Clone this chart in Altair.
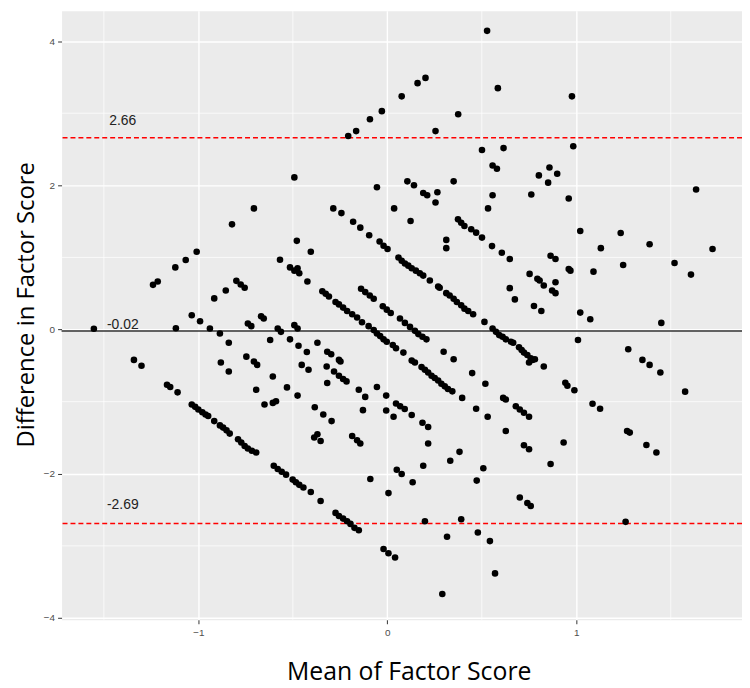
import altair as alt
import pandas as pd

# ---------------- data (mean of factor score, difference in factor score) ----------------
left_pts = [(-1.240, 0.620), (-1.215, 0.666), (-1.122, 0.862), (-1.067, 0.964), (-1.009, 1.078),
            (-0.822, 1.459), (-0.916, 0.432), (-0.855, 0.542), (-1.035, 0.198), (-0.991, 0.116),
            (-1.119, 0.019), (-1.553, 0.010), (-0.939, 0.015), (-0.886, -0.054), (-0.839, -0.183),
            (-0.799, 0.675), (-0.776, 0.624), (-0.755, 0.579), (-1.341, -0.421), (-1.301, -0.503),
            (-1.166, -0.765), (-1.149, -0.796), (-1.110, -0.871), (-0.881, -0.458), (-0.839, -0.582)]

low_diag_a = [(-1.035, -1.040), (-1.017, -1.072), (-1.000, -1.109), (-0.979, -1.146), (-0.962, -1.177),
              (-0.948, -1.200), (-0.916, -1.270), (-0.886, -1.329), (-0.869, -1.360), (-0.851, -1.398),
              (-0.834, -1.443), (-0.790, -1.521), (-0.773, -1.567), (-0.755, -1.614), (-0.738, -1.649),
              (-0.717, -1.682), (-0.694, -1.704)]

low_diag_b = [(-0.601, -1.889), (-0.580, -1.934), (-0.559, -1.971), (-0.536, -2.012), (-0.501, -2.081),
              (-0.484, -2.117), (-0.466, -2.154), (-0.444, -2.191), (-0.405, -2.254), (-0.353, -2.378),
              (-0.274, -2.543), (-0.256, -2.585), (-0.234, -2.622), (-0.213, -2.659), (-0.195, -2.695),
              (-0.174, -2.750), (-0.151, -2.783)]

upper_mid = [(-0.207, 2.684), (-0.165, 2.752), (-0.092, 2.917), (-0.029, 3.029), (-0.492, 2.110),
             (-0.706, 1.680), (-0.055, 1.974), (0.036, 1.680), (-0.286, 1.680), (-0.243, 1.615),
             (-0.181, 1.495), (-0.143, 1.413), (-0.096, 1.308), (-0.041, 1.220), (-0.020, 1.161),
             (0.001, 1.116), (-0.479, 1.230), (-0.405, 1.078), (-0.568, 0.968), (-0.515, 0.862),
             (-0.492, 0.817), (-0.475, 0.849), (-0.466, 0.780), (-0.423, 0.666), (-0.344, 0.532),
             (-0.326, 0.497), (-0.309, 0.459), (-0.274, 0.381), (-0.256, 0.349), (-0.234, 0.304),
             (-0.139, 0.565), (-0.117, 0.519), (-0.093, 0.473), (-0.072, 0.428), (-0.024, 0.322),
             (-0.003, 0.276)]

upper_right = [(0.528, 4.142), (0.160, 3.417), (0.202, 3.490), (0.076, 3.234), (0.585, 3.348),
               (0.375, 2.986), (0.255, 2.752), (0.977, 3.234), (0.984, 2.543), (0.501, 2.491),
               (0.615, 2.516), (0.557, 2.275), (0.580, 2.230), (0.802, 2.138), (0.858, 2.248),
               (0.899, 2.161), (0.851, 2.037), (0.762, 1.872), (0.960, 1.817), (0.106, 2.055),
               (0.141, 2.000), (0.351, 2.055), (0.190, 1.894), (0.211, 1.862), (0.265, 1.904),
               (0.255, 1.762), (0.557, 1.862), (0.533, 1.680), (0.123, 1.505), (0.312, 1.243),
               (0.312, 1.129), (0.374, 1.528), (0.391, 1.481), (0.408, 1.436), (0.444, 1.391),
               (0.470, 1.344), (0.501, 1.275), (0.554, 1.157), (0.606, 1.065), (0.648, 0.978),
               (0.864, 1.023), (0.890, 0.978), (0.960, 0.840), (0.969, 0.817), (0.753, 0.772),
               (0.794, 0.703), (0.806, 0.680), (0.828, 0.611), (0.890, 0.656), (0.872, 0.542),
               (0.890, 0.505), (0.648, 0.574), (0.675, 0.418), (0.776, 0.326), (0.815, 0.257),
               (0.059, 1.000), (0.076, 0.955), (0.093, 0.917), (0.111, 0.886), (0.129, 0.849),
               (0.151, 0.817), (0.172, 0.780), (0.190, 0.748), (0.225, 0.680), (0.269, 0.597),
               (0.277, 0.579), (0.312, 0.505), (0.330, 0.473), (0.351, 0.428), (0.368, 0.381),
               (0.391, 0.336), (0.408, 0.290), (0.428, 0.257), (0.454, 0.212)]

far_upper = [(1.634, 1.941), (1.021, 1.367), (1.235, 1.340), (1.130, 1.129), (1.388, 1.184),
             (1.721, 1.116), (1.248, 0.895), (1.091, 0.803), (1.520, 0.923), (1.607, 0.762)]

lower_mid = [(-0.738, 0.084), (-0.720, 0.047), (-0.668, 0.184), (-0.654, 0.153), (-0.580, 0.015),
             (-0.563, -0.032), (-0.492, 0.061), (-0.475, 0.015), (-0.620, -0.146), (-0.515, -0.136),
             (-0.470, -0.224), (-0.426, -0.311), (-0.370, -0.183), (-0.746, -0.376), (-0.706, -0.444),
             (-0.689, -0.490), (-0.606, -0.651), (-0.694, -0.834), (-0.531, -0.802), (-0.475, -0.916),
             (-0.650, -1.040), (-0.606, -1.017), (-0.589, -0.994), (-0.453, -0.490), (-0.417, -0.558),
             (-0.318, -0.307), (-0.297, -0.343), (-0.256, -0.421), (-0.248, -0.444), (-0.321, -0.513),
             (-0.282, -0.582), (-0.256, -0.641), (-0.234, -0.686), (-0.216, -0.719), (-0.318, -0.741),
             (-0.384, -1.077), (-0.339, -1.177), (-0.295, -1.270), (-0.387, -1.498), (-0.370, -1.453),
             (-0.353, -1.545), (-0.186, -1.476), (-0.160, -1.535), (-0.143, -1.580), (-0.151, -0.834),
             (-0.117, -0.934), (-0.129, -1.118), (-0.055, -0.796), (-0.006, -0.916), (-0.006, -1.122),
             (0.033, -1.209), (0.046, -1.026), (-0.090, -2.072), (0.006, -2.268), (-0.020, -3.044),
             (0.006, -3.103), (0.041, -3.162), (-0.213, 0.257), (-0.186, 0.212), (-0.160, 0.166),
             (-0.134, 0.102), (-0.099, 0.047), (-0.072, -0.008), (-0.055, -0.054), (-0.038, -0.091),
             (-0.020, -0.136), (-0.003, -0.169), (0.029, -0.215), (0.046, -0.260), (0.018, 0.230)]

lower_right = [(0.085, -0.320), (0.129, -0.431), (0.146, -0.458), (0.181, -0.521), (0.199, -0.558),
               (0.216, -0.596), (0.234, -0.641), (0.251, -0.673), (0.269, -0.706), (0.286, -0.751),
               (0.304, -0.788), (0.321, -0.824), (0.344, -0.857), (0.396, -0.948), (0.067, 0.153),
               (0.093, 0.092), (0.120, 0.037), (0.146, -0.018), (0.164, -0.063), (0.186, -0.100),
               (0.207, -0.136), (0.514, 0.106), (0.557, 0.015), (0.575, -0.032), (0.592, -0.077),
               (0.610, -0.100), (0.627, -0.136), (0.654, -0.169), (0.666, -0.183), (0.697, -0.246),
               (0.711, -0.283), (0.723, -0.320), (0.741, -0.352), (0.759, -0.398), (0.768, -0.421),
               (0.750, -0.458), (0.781, -0.411), (0.828, -0.513), (0.298, -0.307), (0.351, -0.411),
               (0.449, -0.604), (0.519, -0.751), (0.613, -0.948), (0.627, -0.971), (0.680, -1.063),
               (0.701, -1.109), (0.723, -1.154), (0.750, -1.209), (0.470, -1.099), (0.531, -1.209),
               (0.068, -1.063), (0.092, -1.102), (0.129, -1.184), (0.186, -1.292), (0.216, -1.352),
               (0.216, -1.580), (0.382, -1.696), (0.333, -1.820), (0.190, -1.889), (0.050, -1.944),
               (0.076, -2.003), (0.134, -2.117), (0.508, -1.924), (0.473, -2.095), (0.627, -1.407),
               (0.723, -1.604), (0.750, -1.659), (0.864, -1.865), (0.933, -1.567), (0.942, -0.737),
               (0.953, -0.779), (0.990, -0.843), (0.199, -2.659), (0.391, -2.631), (0.316, -2.873),
               (0.479, -2.814), (0.543, -2.934), (0.570, -3.382), (0.291, -3.667), (0.701, -2.329),
               (0.741, -2.406), (0.759, -2.447)]

far_lower = [(1.021, 0.235), (1.074, 0.143), (1.450, 0.092), (1.009, -0.146), (1.275, -0.274),
             (1.350, -0.421), (1.388, -0.490), (1.445, -0.596), (1.576, -0.861), (1.086, -1.030),
             (1.126, -1.099), (1.269, -1.407), (1.283, -1.429), (1.371, -1.600), (1.424, -1.704),
             (1.261, -2.667)]

# reference lines (limits of agreement and mean difference)
loa_values = [2.66, -2.69]
mean_diff = [-0.02]
label_text = ["2.66", "-0.02", "-2.69"]
label_x = [-1.40, -1.40, -1.40]
label_y = [2.894, 0.06, -2.439]

x_major = [-1, 0, 1]
x_minor = [-1.5, -0.5, 0.5, 1.5]
y_major = [-4, -2, 0, 2, 4]
y_minor = [-3, -1, 1, 3]

# ---------------- chart ----------------
all_pts = (left_pts + low_diag_a + low_diag_b + upper_mid + upper_right + far_upper
           + lower_mid + lower_right + far_lower)
df = pd.DataFrame(all_pts, columns=["mean", "diff"])

xscale = alt.Scale(domain=[-1.724, 1.877], nice=False, zero=False)
yscale = alt.Scale(domain=[-4.025, 4.421], nice=False, zero=False)

x_axis = alt.Axis(values=x_major, title="Mean of Factor Score", grid=True, gridColor="white",
                  gridWidth=1.4, domain=False, tickColor="#333333", tickSize=4, tickWidth=1,
                  labelColor="#4D4D4D", labelFontSize=10, labelFont="Liberation Sans",
                  labelPadding=4, titleFont="Open Sans", titleFontSize=25,
                  titleFontWeight="normal", titleColor="black", titleX=350, titleY=52,
                  titleBaseline="middle", titleAlign="center")
y_axis = alt.Axis(values=y_major, title="Difference in Factor Score", grid=True,
                  gridColor="white", gridWidth=1.4, domain=False, tickColor="#333333",
                  tickSize=4, tickWidth=1, labelColor="#4D4D4D", labelFontSize=10,
                  labelFont="Liberation Sans", labelPadding=3, titleFont="Open Sans",
                  titleFontSize=24, titleFontWeight="normal", titleColor="black",
                  titleX=-35, titleY=296, titleAngle=270, titleBaseline="middle",
                  titleAlign="center")

X = alt.X("mean:Q", scale=xscale, axis=x_axis)
Y = alt.Y("diff:Q", scale=yscale, axis=y_axis)

minor_v = alt.Chart(pd.DataFrame({"mean": x_minor})).mark_rule(
    color="white", strokeWidth=0.7).encode(x=X)
minor_h = alt.Chart(pd.DataFrame({"diff": y_minor})).mark_rule(
    color="white", strokeWidth=0.7).encode(y=Y)

loa = alt.Chart(pd.DataFrame({"diff": loa_values})).mark_rule(
    color="#FF0000", strokeWidth=1.6, strokeDash=[5, 3]).encode(y=Y)
mean_line = alt.Chart(pd.DataFrame({"diff": mean_diff})).mark_rule(
    color="#333333", strokeWidth=1.3).encode(y=Y)

points = alt.Chart(df).mark_circle(size=44, color="black", opacity=1).encode(x=X, y=Y)

labels = alt.Chart(pd.DataFrame({"mean": label_x, "diff": label_y, "label": label_text})).mark_text(
    font="Liberation Sans", fontSize=14, color="#222222", align="center", baseline="middle"
).encode(x=X, y=Y, text="label:N")

chart = alt.layer(minor_v, minor_h, loa, mean_line, points, labels).properties(
    width=686, height=614,
    padding={"left": 54, "top": 0, "right": 0, "bottom": 66},
    autosize=alt.AutoSizeParams(type="none"),
    background="white",
).configure_view(fill="#EBEBEB", stroke="transparent")

chart.save("out.html", embed_options={"renderer": "svg", "actions": False})
